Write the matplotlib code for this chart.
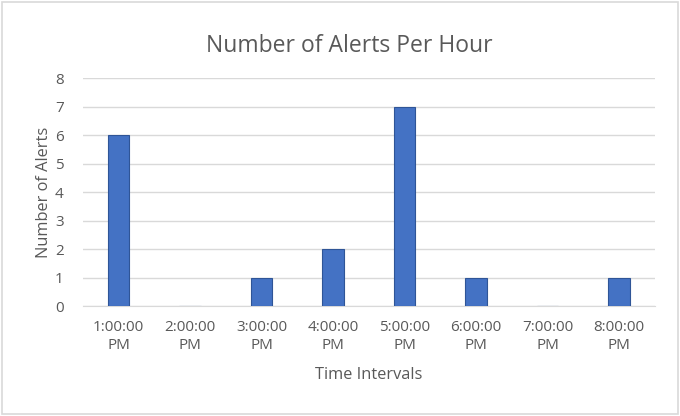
import matplotlib.pyplot as plt
from matplotlib.patches import Rectangle

categories = ["1:00:00\nPM", "2:00:00\nPM", "3:00:00\nPM", "4:00:00\nPM",
              "5:00:00\nPM", "6:00:00\nPM", "7:00:00\nPM", "8:00:00\nPM"]
alerts = [6, 0, 1, 2, 7, 1, 0, 1]

plt.rcParams["font.family"] = ["Open Sans", "DejaVu Sans"]
text_color = "#595959"

fig = plt.figure(figsize=(6.8, 4.16), dpi=100)
ax = fig.add_axes([0.122, 0.264, 0.841, 0.548])

x = range(len(categories))
ax.bar(x, alerts, width=0.3, color="#4472C4", edgecolor="#2F5597", linewidth=0.8, zorder=3)

ax.set_xlim(-0.5, len(categories) - 0.5)
ax.set_ylim(0, 8)
ax.set_yticks(range(0, 9))
ax.set_xticks(list(x))
ax.set_xticklabels(categories, linespacing=1.3)
ax.tick_params(axis="both", length=0, colors=text_color, labelsize=11)
ax.tick_params(axis="x", pad=10)
ax.tick_params(axis="y", pad=14)
ax.grid(axis="y", color="#D9D9D9", linewidth=1, zorder=0)
for side in ["top", "right", "left"]:
    ax.spines[side].set_visible(False)
ax.spines["bottom"].set_color("#D9D9D9")

ax.set_xlabel("Time Intervals", color=text_color, fontsize=11.8, labelpad=10)
ax.set_ylabel("Number of Alerts", color=text_color, fontsize=11.8, labelpad=2)
fig.text(0.514, 0.89, "Number of Alerts Per Hour", ha="center", va="center",
         color=text_color, fontsize=16.5)

fig.patches.append(Rectangle((0.003, 0.004), 0.994, 0.992, transform=fig.transFigure,
                             fill=False, edgecolor="#D9D9D9", linewidth=1.2))

fig.savefig("out.png", dpi=100)
